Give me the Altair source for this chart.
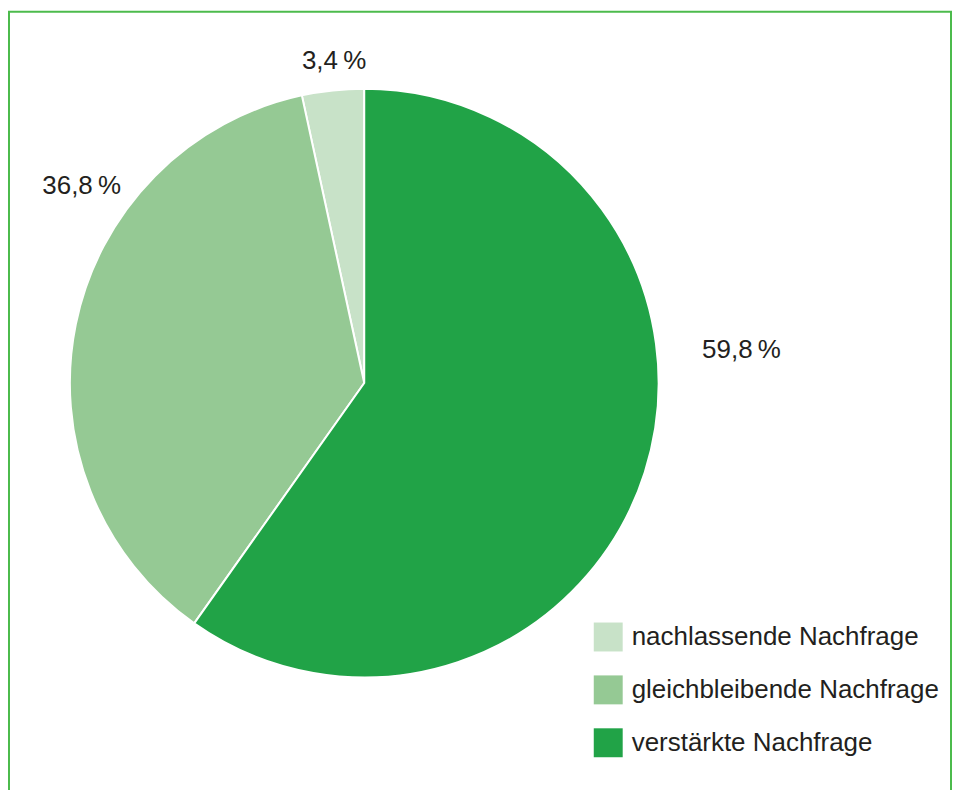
import altair as alt
import pandas as pd

categories = ["nachlassende Nachfrage", "gleichbleibende Nachfrage", "verstärkte Nachfrage"]
values = [3.4, 36.8, 59.8]
labels = ["3,4\u2009%", "36,8\u2009%", "59,8\u2009%"]
pie_order = [3, 2, 1]
colors = ["#c8e2c8", "#95c994", "#21a347"]

df = pd.DataFrame({"cat": categories, "val": values, "label": labels, "ord": pie_order})

W, H = 946, 782
CX, CY, R = 357, 375, 295
FONT = "Liberation Sans"

base = alt.Chart(df)

pie = base.mark_arc(outerRadius=R, stroke="white", strokeWidth=2).encode(
    theta=alt.Theta("val:Q", stack=True),
    order=alt.Order("ord:Q"),
    color=alt.Color(
        "cat:N",
        scale=alt.Scale(domain=categories, range=colors),
        legend=alt.Legend(
            title=None,
            orient="none",
            legendX=587,
            legendY=615,
            symbolType="square",
            symbolSize=841,
            symbolStrokeWidth=0,
            labelFont=FONT,
            labelFontSize=26,
            labelColor="#231f20",
            labelOffset=9,
            rowPadding=24,
            padding=0,
            labelLimit=400,
        ),
    ),
    x=alt.value(CX),
    y=alt.value(CY),
)

text_base = base.transform_window(
    cum="sum(val)", sort=[alt.SortField("ord", order="ascending")]
).transform_joinaggregate(total="sum(val)").transform_calculate(
    mid="(datum.cum - datum.val / 2) / datum.total * 2 * PI"
)

offsets = {"3,4\u2009%": (6, 15), "36,8\u2009%": (50, -130), "59,8\u2009%": (54, -136)}
text_layers = []
for lab in labels:
    dx, dy = offsets[lab]
    t = text_base.transform_filter(alt.datum.label == lab).mark_text(
        radius=340, font=FONT, fontSize=26, color="#231f20",
        align="center", baseline="middle", dx=dx, dy=dy,
    ).encode(
        theta=alt.Theta("mid:Q", stack=False, scale=None),
        text="label:N",
        x=alt.value(CX),
        y=alt.value(CY),
    )
    text_layers.append(t)

frame_data = alt.Data(values=[{"a": 1}])
frame_color = "#4cbb4c"
left = alt.Chart(frame_data).mark_rule(color=frame_color, strokeWidth=2).encode(
    x=alt.value(1), y=alt.value(3), y2=alt.value(H + 20))
top = alt.Chart(frame_data).mark_rule(color=frame_color, strokeWidth=2).encode(
    x=alt.value(0), x2=alt.value(946), y=alt.value(3))
right = alt.Chart(frame_data).mark_rule(color=frame_color, strokeWidth=2).encode(
    x=alt.value(945), y=alt.value(3), y2=alt.value(H + 20))

chart = alt.layer(pie, *text_layers, left, top, right).properties(
    width=W, height=H, autosize=alt.AutoSizeParams(type="none"), padding=0,
    background="white",
).configure_view(stroke=None)

chart.save("out.html", embed_options={"renderer": "svg", "actions": False})
